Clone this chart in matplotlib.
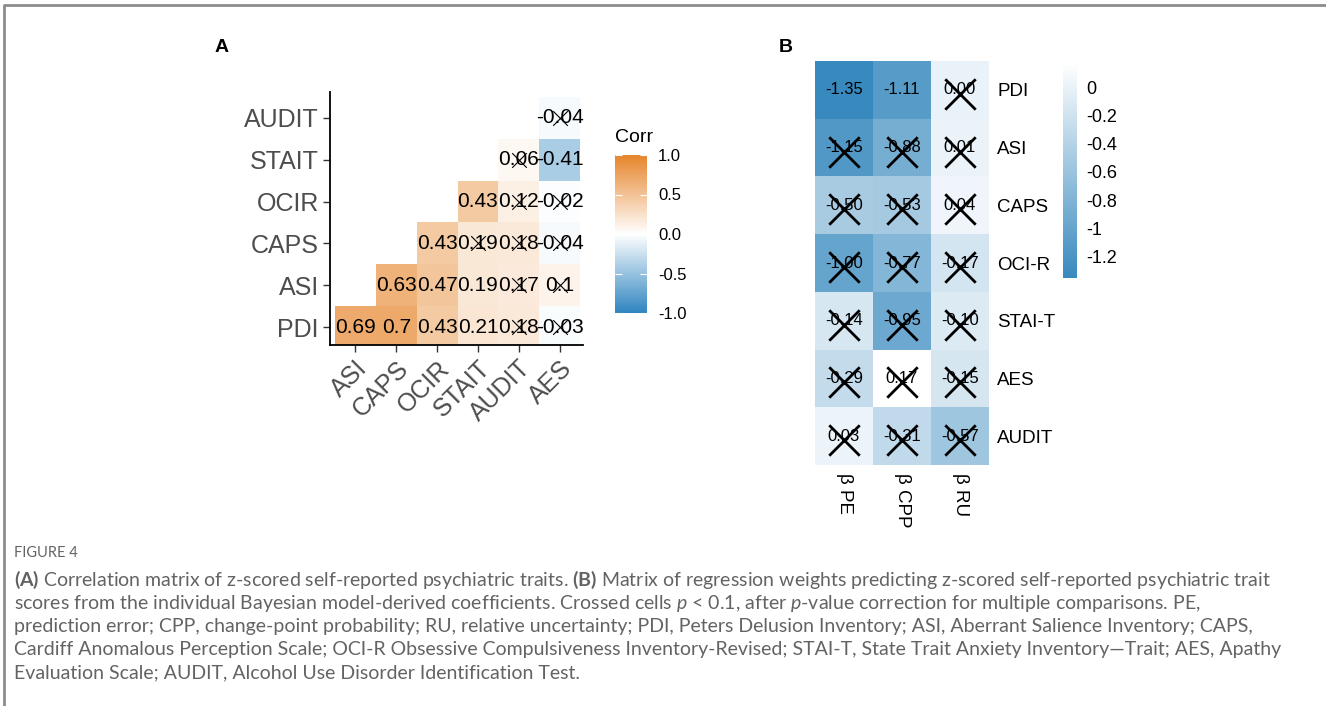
import numpy as np
import matplotlib.pyplot as plt
from matplotlib.colors import LinearSegmentedColormap, Normalize
from matplotlib.cm import ScalarMappable

plt.rcParams['font.family'] = ['Liberation Sans', 'DejaVu Sans']

# panel A: correlaciones (filas de abajo hacia arriba)
filas_a = ["PDI", "ASI", "CAPS", "OCIR", "STAIT", "AUDIT"]
cols_a = ["ASI", "CAPS", "OCIR", "STAIT", "AUDIT", "AES"]
nan = np.nan
corr = np.array([
    [0.69, 0.70, 0.43, 0.21, 0.18, -0.03],
    [nan, 0.63, 0.47, 0.19, 0.17, 0.10],
    [nan, nan, 0.43, 0.19, 0.18, -0.04],
    [nan, nan, nan, 0.43, 0.12, -0.02],
    [nan, nan, nan, nan, 0.06, -0.41],
    [nan, nan, nan, nan, nan, -0.04],
])
# 1 = no significativo (cruz)
cruz_a = np.array([
    [0, 0, 0, 0, 1, 1],
    [0, 0, 0, 0, 1, 1],
    [0, 0, 0, 1, 1, 1],
    [0, 0, 0, 0, 1, 1],
    [0, 0, 0, 0, 1, 0],
    [0, 0, 0, 0, 0, 1],
])

# panel B: pesos de regresion (filas de arriba hacia abajo)
filas_b = ["PDI", "ASI", "CAPS", "OCI-R", "STAI-T", "AES", "AUDIT"]
cols_b = ["β PE", "β CPP", "β RU"]
beta = np.array([
    [-1.35, -1.11, 0.00],
    [-1.15, -0.88, 0.01],
    [-0.50, -0.53, 0.04],
    [-1.00, -0.77, -0.17],
    [-0.14, -0.95, -0.10],
    [-0.29, 0.17, -0.15],
    [0.03, -0.31, -0.57],
])
cruz_b = np.array([
    [0, 0, 1],
    [1, 1, 1],
    [1, 1, 1],
    [1, 1, 1],
    [1, 1, 1],
    [1, 1, 1],
    [1, 1, 1],
])
ticks_b = [0, -0.2, -0.4, -0.6, -0.8, -1, -1.2]

W, H = 1326, 706
def caja(x0, y0, x1, y1):
    # pixeles (origen arriba a la izquierda) -> fraccion de figura
    return [x0 / W, 1 - y1 / H, (x1 - x0) / W, (y1 - y0) / H]

fig = plt.figure(figsize=(W / 100, H / 100), dpi=100)

# marco gris
marco = fig.add_axes([0, 0, 1, 1])
marco.set_xlim(0, W)
marco.set_ylim(H, 0)
marco.axis("off")
marco.plot([4, 4, W], [H, 5, 5], color="#8c8c8c", lw=2)

# ---- panel A ----
cmap_a = LinearSegmentedColormap.from_list("corr", ["#2f85c0", "#ffffff", "#e6852b"])
ax = fig.add_axes(caja(330, 92, 583, 345))
ny, nx = corr.shape
ax.pcolormesh(np.arange(nx + 1) - 0.5, np.arange(ny + 1) - 0.5, np.ma.masked_invalid(corr),
              cmap=cmap_a, vmin=-1, vmax=1)
for i in range(ny):
    for j in range(nx):
        if np.isnan(corr[i, j]):
            continue
        ax.text(j, i, f"{round(corr[i, j], 2):g}", ha="center", va="center",
                fontsize=15, color="black")
        if cruz_a[i, j]:
            ax.scatter(j, i, marker="x", s=110, color="black", linewidths=0.8)
ax.set_xlim(-0.62, nx - 0.43)
ax.set_ylim(-0.43, ny - 0.38)
ax.set_xticks(range(nx))
ax.set_xticklabels(cols_a, rotation=45, ha="right", rotation_mode="anchor",
                   fontsize=18, color="#4d4d4d")
ax.set_yticks(range(ny))
ax.set_yticklabels(filas_a, fontsize=18, color="#4d4d4d")
ax.tick_params(length=5, width=1, color="#333333", pad=3)
for s in ["top", "right"]:
    ax.spines[s].set_visible(False)
for s in ["left", "bottom"]:
    ax.spines[s].set_linewidth(1.3)
fig.text(215 / W, 1 - 48 / H, "A", fontsize=14, fontweight="bold", va="center")

cax = fig.add_axes(caja(615, 155, 647, 313))
cb = fig.colorbar(ScalarMappable(Normalize(-1, 1), cmap_a), cax=cax)
cb.outline.set_visible(False)
cb.set_ticks([1, 0.5, 0, -0.5, -1])
cb.set_ticklabels(["1.0", "0.5", "0.0", "-0.5", "-1.0"])
cax.tick_params(which="both", direction="in", color="white", length=5, width=0.8,
                labelsize=12, labelcolor="black", pad=8, left=True, right=True)
fig.text(615 / W, 1 - 137 / H, "Corr", fontsize=14, va="center")

# ---- panel B ----
cmap_b = LinearSegmentedColormap.from_list("beta", ["#3889be", "#ffffff"])
bx = fig.add_axes(caja(815, 61, 989, 465))
nf, nc = beta.shape
bx.pcolormesh(np.arange(nc + 1) - 0.5, np.arange(nf + 1) - 0.5, beta,
              cmap=cmap_b, vmin=beta.min(), vmax=beta.max())
for i in range(nf):
    for j in range(nc):
        bx.text(j, i, f"{beta[i, j]:.2f}", ha="center", va="center", fontsize=12)
        if cruz_b[i, j]:
            bx.scatter(j, i + 0.07, marker="x", s=480, color="black", linewidths=2)
bx.set_xlim(-0.5, nc - 0.5)
bx.set_ylim(nf - 0.5, -0.5)
bx.yaxis.tick_right()
bx.set_yticks(range(nf))
bx.set_yticklabels(filas_b, fontsize=13.5)
bx.set_xticks(range(nc))
bx.set_xticklabels(cols_b, rotation=270, fontsize=13.5, va="top")
bx.tick_params(length=0, pad=6)
for s in bx.spines.values():
    s.set_visible(False)
fig.text(779 / W, 1 - 48 / H, "B", fontsize=14, fontweight="bold", va="center")

cbx = fig.add_axes(caja(1063, 63, 1077, 278))
cb2 = fig.colorbar(ScalarMappable(Normalize(beta.min(), beta.max()), cmap_b), cax=cbx)
cb2.outline.set_visible(False)
cb2.set_ticks(ticks_b)
cb2.set_ticklabels([f"{t:g}" for t in ticks_b])
cbx.tick_params(length=0, labelsize=13, pad=7)

# ---- pie de figura ----
plt.rcParams['mathtext.fontset'] = 'custom'
plt.rcParams['mathtext.rm'] = 'Lato'
plt.rcParams['mathtext.bf'] = 'Lato:bold'
plt.rcParams['mathtext.it'] = 'Lato:italic:normal'
gris = "#636363"
fig.text(14 / W, 1 - 553 / H, "FIGURE 4", fontsize=10.5, color=gris, family="Lato", va="center")
lineas = [
    r"$\mathbf{(A)}$ Correlation matrix of z-scored self-reported psychiatric traits. $\mathbf{(B)}$ Matrix of regression weights predicting z-scored self-reported psychiatric trait",
    r"scores from the individual Bayesian model-derived coefficients. Crossed cells $p$ < 0.1, after $p$-value correction for multiple comparisons. PE,",
    "prediction error; CPP, change-point probability; RU, relative uncertainty; PDI, Peters Delusion Inventory; ASI, Aberrant Salience Inventory; CAPS,",
    "Cardiff Anomalous Perception Scale; OCI-R Obsessive Compulsiveness Inventory-Revised; STAI-T, State Trait Anxiety Inventory—Trait; AES, Apathy",
    "Evaluation Scale; AUDIT, Alcohol Use Disorder Identification Test.",
]
for k, t in enumerate(lineas):
    fig.text(14 / W, 1 - (580 + k * 23.3) / H, t, fontsize=14.0, color=gris,
             family="Lato", va="center")

fig.savefig("out.png", dpi=100)
